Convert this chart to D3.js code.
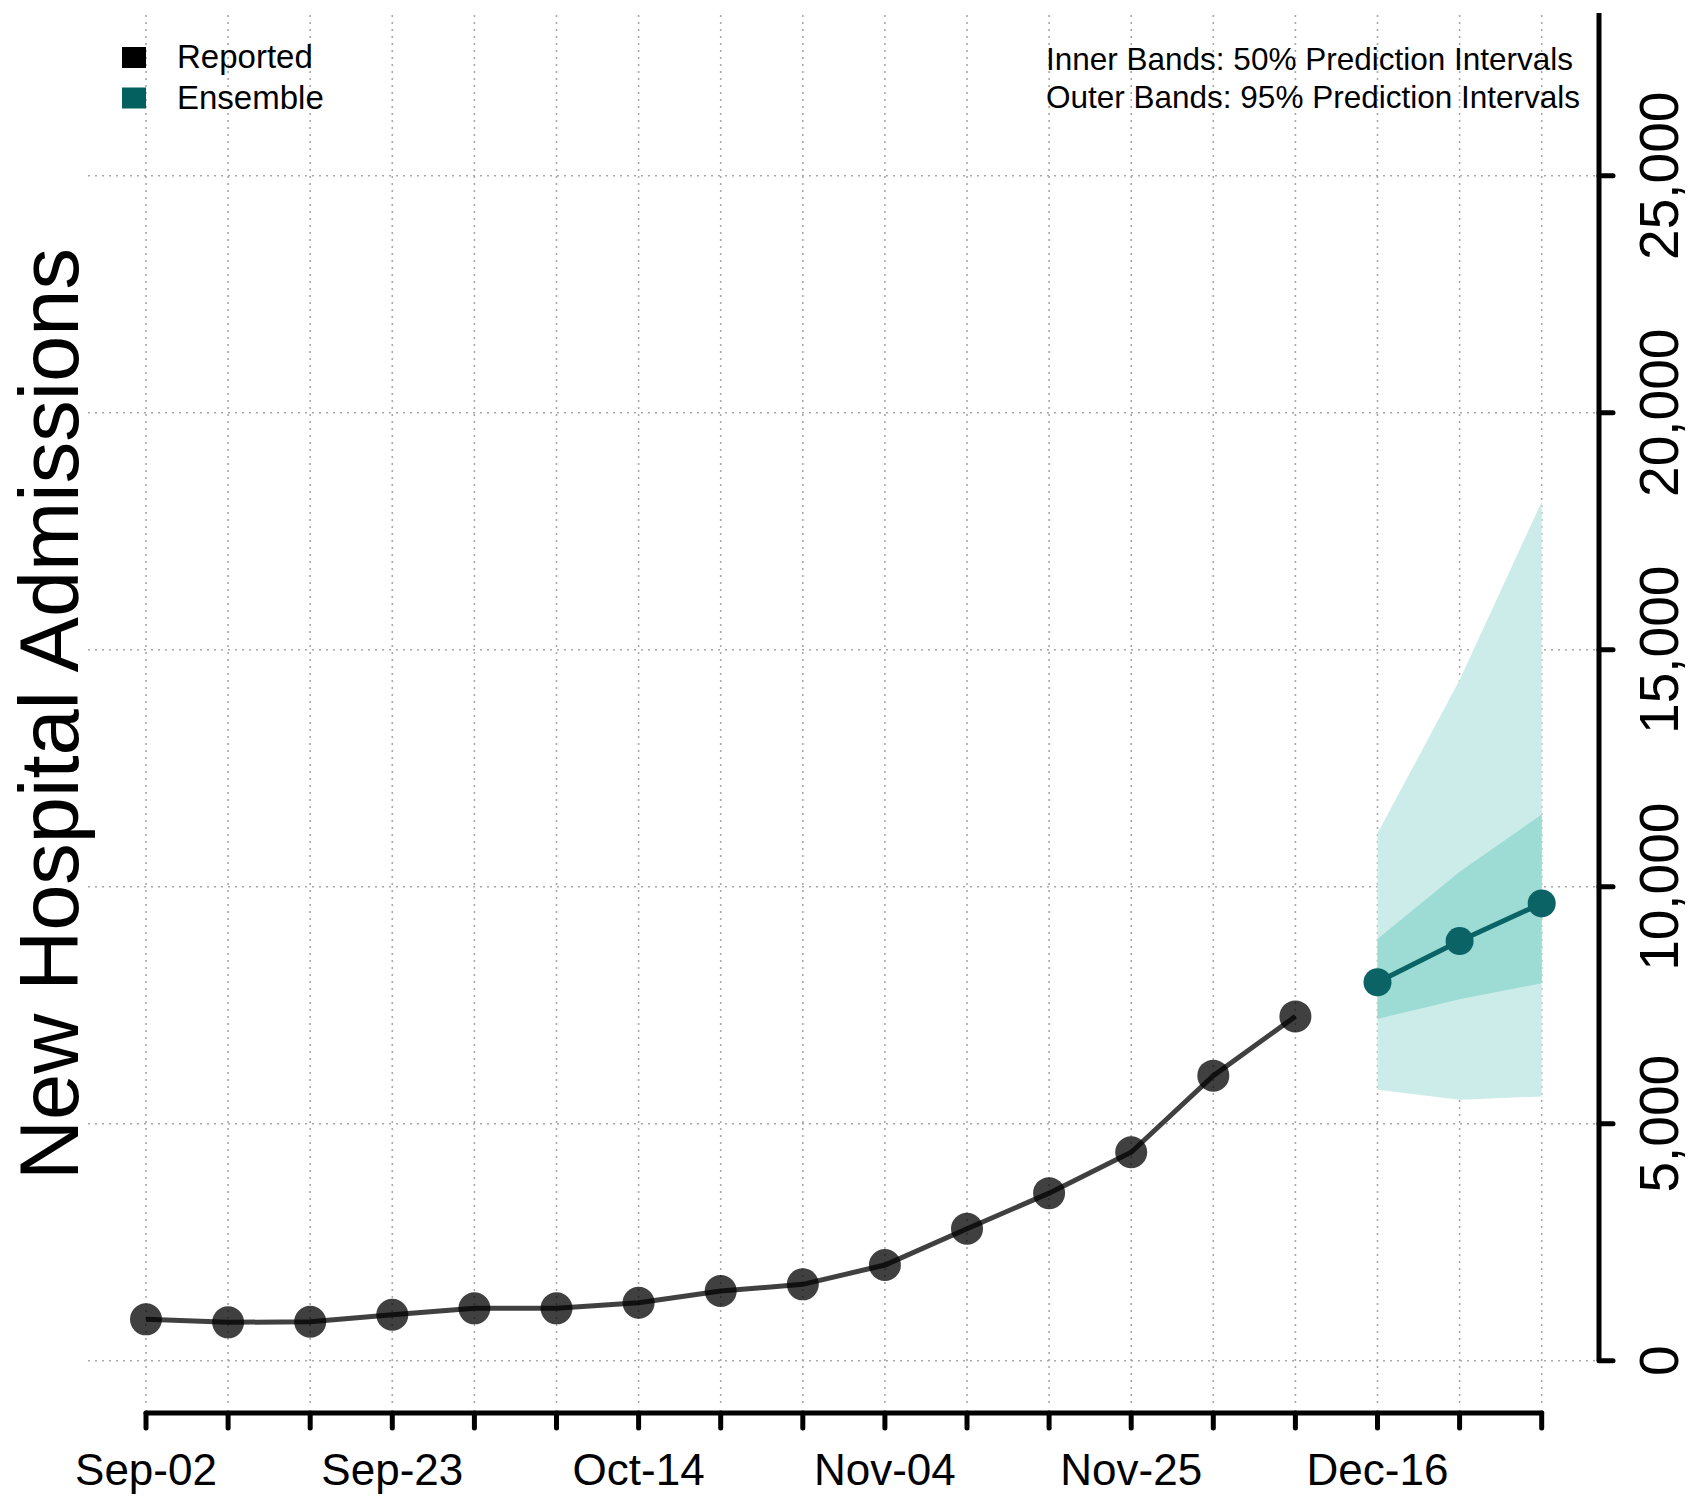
<!DOCTYPE html>
<html>
<head>
<meta charset="utf-8">
<script src="https://cdn.jsdelivr.net/npm/d3@7"></script>
<style>
  body { margin: 0; background: #fff; }
  text { font-family: "Liberation Sans", Arial, sans-serif; }
</style>
</head>
<body>
<div id="chart"></div>
<script>
// weekly dates (2020)
const weeks = ["2020-09-02", "2020-09-09", "2020-09-16", "2020-09-23", "2020-09-30",
  "2020-10-07", "2020-10-14", "2020-10-21", "2020-10-28", "2020-11-04", "2020-11-11",
  "2020-11-18", "2020-11-25", "2020-12-02", "2020-12-09", "2020-12-16", "2020-12-23",
  "2020-12-30"];
const labelWeeks = ["2020-09-02", "2020-09-23", "2020-10-14", "2020-11-04", "2020-11-25", "2020-12-16"];

// reported weekly admissions
const reportedDates = weeks.slice(0, 15);
const reported = [873, 810, 823, 971, 1105, 1105, 1224, 1471, 1612, 2019, 2785, 3536, 4399, 6015, 7265];

// ensemble forecast
const forecastDates = weeks.slice(15);
const ensemble = [7985, 8855, 9649];
const lower50 = [7212, 7626, 7963];
const upper50 = [8897, 10316, 11524];
const lower95 = [5716, 5506, 5576];
const upper95 = [11128, 14362, 18124];

const yTicks = [0, 5000, 10000, 15000, 20000, 25000];

const parse = d3.timeParse("%Y-%m-%d");
const fmtDate = d3.timeFormat("%b-%d");
const fmtNum = d3.format(",");

const width = 1690, height = 1497;
const svg = d3.select("#chart").append("svg")
  .attr("width", width).attr("height", height);

const x = d3.scaleTime()
  .domain([parse(weeks[0]), parse(weeks[weeks.length - 1])])
  .range([146, 1541.7]);
const y = d3.scaleLinear()
  .domain([-1103, 28435])
  .range([1413, 13]);

const axisX = 1599, gridLeft = 88, gridTop = 15, gridBottom = 1404;

// grid
const grid = svg.append("g")
  .attr("stroke", "#a8a8a8").attr("stroke-width", 1.6).attr("stroke-dasharray", "2,5");
grid.selectAll(".vg").data(weeks).enter().append("line")
  .attr("x1", d => x(parse(d))).attr("x2", d => x(parse(d)))
  .attr("y1", gridTop).attr("y2", gridBottom);
grid.selectAll(".hg").data(yTicks).enter().append("line")
  .attr("x1", gridLeft).attr("x2", axisX - 4)
  .attr("y1", d => y(d)).attr("y2", d => y(d));

// bands
const fc = forecastDates.map((d, i) => ({
  date: parse(d), mid: ensemble[i],
  lo50: lower50[i], hi50: upper50[i], lo95: lower95[i], hi95: upper95[i]
}));
svg.append("path").datum(fc)
  .attr("fill", "#ccecea")
  .attr("d", d3.area().x(d => x(d.date)).y0(d => y(d.lo95)).y1(d => y(d.hi95)));
svg.append("path").datum(fc)
  .attr("fill", "#9cdcd4")
  .attr("d", d3.area().x(d => x(d.date)).y0(d => y(d.lo50)).y1(d => y(d.hi50)));

// reported series
const rep = reportedDates.map((d, i) => ({ date: parse(d), v: reported[i] }));
svg.append("g").selectAll("circle").data(rep).enter().append("circle")
  .attr("cx", d => x(d.date)).attr("cy", d => y(d.v))
  .attr("r", 16).attr("fill", "#000").attr("fill-opacity", 0.75);
svg.append("path").datum(rep)
  .attr("fill", "none").attr("stroke", "#000").attr("stroke-opacity", 0.75)
  .attr("stroke-width", 5)
  .attr("d", d3.line().x(d => x(d.date)).y(d => y(d.v)));

// ensemble series
svg.append("path").datum(fc)
  .attr("fill", "none").attr("stroke", "#0b6366").attr("stroke-width", 5)
  .attr("d", d3.line().x(d => x(d.date)).y(d => y(d.mid)));
svg.append("g").selectAll("circle").data(fc).enter().append("circle")
  .attr("cx", d => x(d.date)).attr("cy", d => y(d.mid))
  .attr("r", 14).attr("fill", "#0b6366");

// x axis
const xa = svg.append("g").attr("stroke", "#000").attr("stroke-width", 5);
xa.append("line")
  .attr("x1", x(parse(weeks[0]))).attr("x2", x(parse(weeks[weeks.length - 1])))
  .attr("y1", 1413).attr("y2", 1413).attr("stroke-linecap", "round");
xa.selectAll(".t").data(weeks).enter().append("line")
  .attr("x1", d => x(parse(d))).attr("x2", d => x(parse(d)))
  .attr("y1", 1413).attr("y2", 1428).attr("stroke-linecap", "round");
svg.append("g").selectAll("text").data(labelWeeks).enter().append("text")
  .attr("x", d => x(parse(d))).attr("y", 1485)
  .attr("text-anchor", "middle").attr("font-size", 44)
  .text(d => fmtDate(parse(d)));

// y axis (right)
const ya = svg.append("g").attr("stroke", "#000").attr("stroke-width", 5);
ya.append("line")
  .attr("x1", axisX).attr("x2", axisX)
  .attr("y1", y.range()[1]).attr("y2", y(0));
ya.selectAll(".t").data(yTicks).enter().append("line")
  .attr("x1", axisX).attr("x2", 1613)
  .attr("y1", d => y(d)).attr("y2", d => y(d)).attr("stroke-linecap", "round");
svg.append("g").selectAll("text").data(yTicks).enter().append("text")
  .attr("transform", d => `translate(1678,${y(d)}) rotate(-90)`)
  .attr("text-anchor", "middle").attr("font-size", 55)
  .text(d => fmtNum(d));

// y title
svg.append("text")
  .attr("transform", "translate(78,714) rotate(-90)")
  .attr("text-anchor", "middle").attr("font-size", 83)
  .text("New Hospital Admissions");

// legend
const legend = [{ name: "Reported", color: "#000" }, { name: "Ensemble", color: "#03605f" }];
const lg = svg.append("g");
lg.selectAll("rect").data(legend).enter().append("rect")
  .attr("x", 122).attr("y", (d, i) => 47 + i * 40.5)
  .attr("width", 24).attr("height", 21).attr("fill", d => d.color);
lg.selectAll("text").data(legend).enter().append("text")
  .attr("x", 177).attr("y", (d, i) => 68 + i * 40.5)
  .attr("font-size", 33).text(d => d.name);

// band notes
const notes = ["Inner Bands: 50% Prediction Intervals", "Outer Bands: 95% Prediction Intervals"];
svg.append("g").selectAll("text").data(notes).enter().append("text")
  .attr("x", 1046).attr("y", (d, i) => 70 + i * 38)
  .attr("font-size", 31.5).text(d => d);
</script>
</body>
</html>
